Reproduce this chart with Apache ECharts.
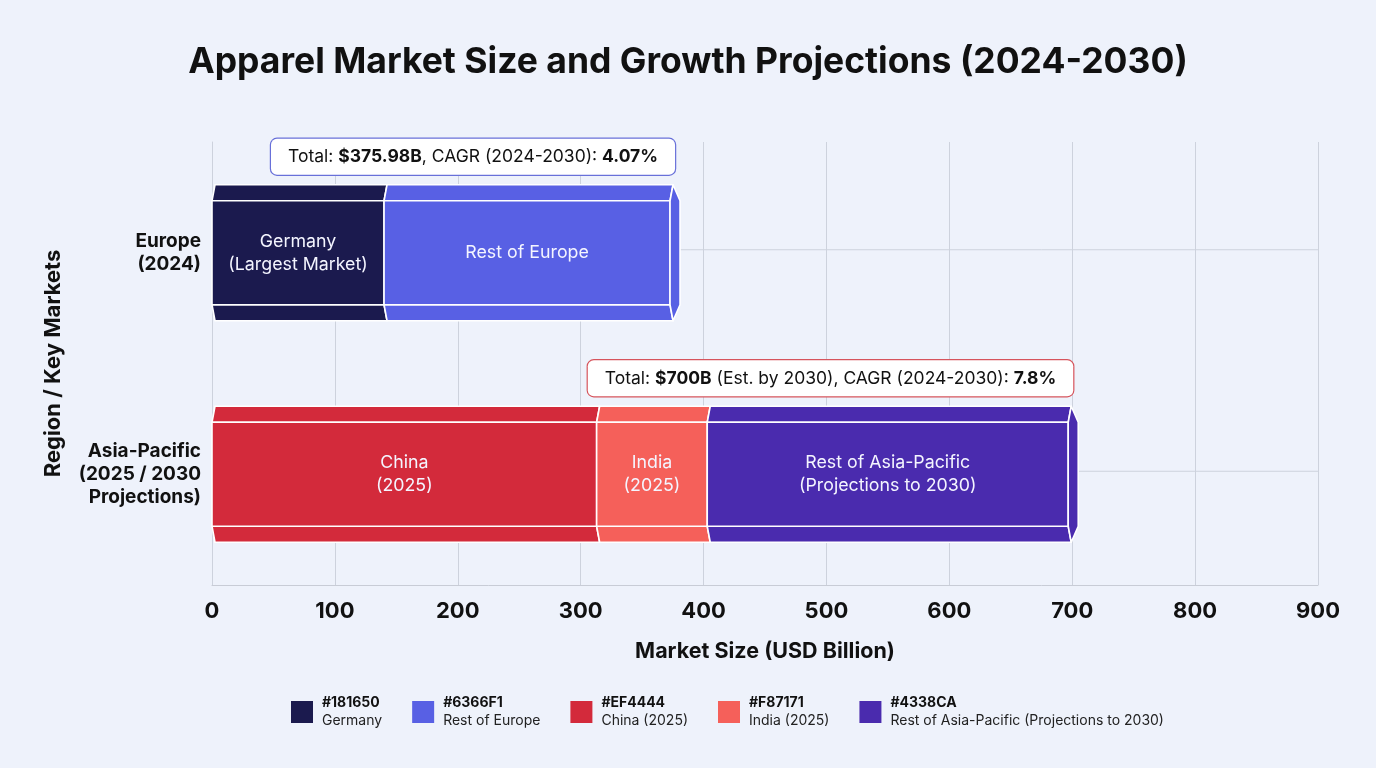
<!DOCTYPE html>
<html>
<head>
<meta charset="utf-8">
<title>Apparel Market Size and Growth Projections</title>
<script src="https://cdn.jsdelivr.net/npm/echarts@6/dist/echarts.min.js"></script>
<style>
  html, body { margin: 0; padding: 0; background: #EEF2FB; }
  #chart { width: 1376px; height: 768px; }
</style>
</head>
<body>
<div id="chart"></div>
<script>
// rows on the y axis
var regions = ['Europe\n(2024)', 'Asia-Pacific\n(2025 / 2030\nProjections)'];

// stacked segments (USD billion)
var segmentNames = ['Germany', 'Rest of Europe', 'China (2025)', 'India (2025)', 'Rest of Asia-Pacific (Projections to 2030)'];
var segmentLabels = ['Germany\n(Largest Market)', 'Rest of Europe', 'China\n(2025)', 'India\n(2025)', 'Rest of Asia-Pacific\n(Projections to 2030)'];
var segmentRegion = [0, 0, 1, 1, 1];
var segmentValues = [140, 235.98, 313, 90, 297];
var segmentHex = ['#181650', '#6366F1', '#EF4444', '#F87171', '#4338CA'];
var segmentFill = ['#1B1A4E', '#5860E4', '#D32A3B', '#F5605A', '#4A2BAE'];

// total boxes above each row
var totalTexts = [
  'Total: {b|$375.98B}, CAGR (2024-2030): {b|4.07%}',
  'Total: {b|$700B} (Est. by 2030), CAGR (2024-2030): {b|7.8%}'
];
var totalBorders = ['#6870D9', '#D6545C'];

var xMin = 0, xMax = 900, xStep = 100;

var FONT = 'Inter, "Noto Sans", sans-serif';

// work out start/end of each segment per row
var offsets = [0, 0];
var rowLast = [];
segmentRegion.forEach(function(r, i) { rowLast[r] = i; });
var segData = segmentValues.map(function(v, i) {
  var r = segmentRegion[i];
  var s = offsets[r];
  offsets[r] += v;
  return [r, s, s + v, s === 0 ? 1 : 0, rowLast[r] === i ? 1 : 0, i];
});

function renderItem(params, api) {
  var row = api.value(0);
  var start = api.value(1);
  var end = api.value(2);
  var isFirst = api.value(3);
  var isLast = api.value(4);
  var idx = api.value(5);
  var p0 = api.coord([start, row]);
  var p1 = api.coord([end, row]);
  var cs = params.coordSys;
  var h = 136, bev = 16, sl = 3;
  var cy = p0[1];
  var top = cy - h / 2, bot = cy + h / 2;
  var a = p0[0], b = p1[0];
  var fe = isLast ? b - 4 : b;
  var tip = b + 6;
  var color = api.visual('color');
  var stroke = { stroke: '#ffffff', lineWidth: 1.6, fill: color, lineJoin: 'round' };
  var kids = [];

  if (isFirst) {
    kids.push({
      type: 'line',
      shape: { x1: cs.x, y1: cy - 3, x2: cs.x + cs.width, y2: cy - 3 },
      style: { stroke: '#CDD2DD', lineWidth: 1 }
    });
  }
  // top bevel
  kids.push({
    type: 'polygon',
    shape: { points: [[a, top + bev], [a + sl, top], [fe + sl, top], [fe, top + bev]] },
    style: stroke
  });
  // bottom bevel
  kids.push({
    type: 'polygon',
    shape: { points: [[a, bot - bev], [fe, bot - bev], [fe + sl, bot], [a + sl, bot]] },
    style: stroke
  });
  // front face
  kids.push({
    type: 'rect',
    shape: { x: a, y: top + bev, width: fe - a, height: h - 2 * bev },
    style: stroke
  });
  if (isLast) {
    kids.push({
      type: 'polygon',
      shape: { points: [[fe + sl, top], [tip, top + bev], [tip, bot - bev], [fe + sl, bot], [fe, bot - bev], [fe, top + bev]] },
      style: stroke
    });
  }
  kids.push({
    type: 'text',
    x: (a + fe) / 2,
    y: cy,
    style: {
      text: segmentLabels[idx],
      fill: '#F4F5FF',
      font: '17.8px ' + FONT,
      lineHeight: 23,
      align: 'center',
      verticalAlign: 'middle'
    }
  });
  if (isLast) {
    kids.push({
      type: 'text',
      x: tip - 5,
      y: top - 10,
      style: {
        text: totalTexts[row],
        fill: '#111111',
        font: '17.5px ' + FONT,
        align: 'right',
        verticalAlign: 'bottom',
        backgroundColor: '#ffffff',
        borderColor: totalBorders[row],
        borderWidth: 1.2,
        borderRadius: 6,
        padding: [9, 17, 9, 17],
        rich: {
          b: { font: 'bold 17.5px ' + FONT, fill: '#111111' }
        }
      }
    });
  }
  return { type: 'group', children: kids };
}

var series = segmentNames.map(function(name, i) {
  return {
    name: name,
    type: 'custom',
    renderItem: renderItem,
    clip: false,
    itemStyle: { color: segmentFill[i] },
    encode: { x: [1, 2], y: 0 },
    data: [segData[i]]
  };
});

var chart = echarts.init(document.getElementById('chart'));
chart.setOption({
  backgroundColor: '#EEF2FB',
  animation: false,
  title: {
    text: 'Apparel Market Size and Growth Projections (2024-2030)',
    left: 'center',
    top: 39,
    textStyle: { fontFamily: FONT, fontSize: 35.5, fontWeight: 'bold', color: '#111111' }
  },
  grid: { left: 212, right: 58, top: 142, bottom: 183 },
  legend: {
    data: segmentNames,
    left: 286,
    top: 691,
    icon: 'rect',
    itemWidth: 22,
    itemHeight: 22,
    itemGap: 30,
    formatter: function(name) {
      var i = segmentNames.indexOf(name);
      return '{h|' + segmentHex[i] + '}\n{n|' + name + '}';
    },
    textStyle: {
      fontFamily: FONT,
      padding: [0, 0, 0, 4],
      rich: {
        h: { fontFamily: FONT, fontSize: 14, fontWeight: 'bold', color: '#111111', lineHeight: 18 },
        n: { fontFamily: FONT, fontSize: 14, color: '#222222', lineHeight: 18 }
      }
    }
  },
  xAxis: {
    type: 'value',
    min: xMin,
    max: xMax,
    interval: xStep,
    name: 'Market Size (USD Billion)',
    nameLocation: 'middle',
    nameGap: 56,
    nameTextStyle: { fontFamily: FONT, fontSize: 21.5, fontWeight: 'bold', color: '#111111' },
    axisLine: { show: true, lineStyle: { color: '#C8CCD6' } },
    axisTick: { show: false },
    axisLabel: { fontFamily: FONT, fontSize: 22, fontWeight: 'bold', color: '#111111', margin: 15 },
    splitLine: { show: true, lineStyle: { color: '#CDD2DD' } }
  },
  yAxis: {
    type: 'category',
    data: regions,
    inverse: true,
    name: 'Region / Key Markets',
    nameLocation: 'middle',
    nameGap: 148,
    nameRotate: 90,
    nameTextStyle: { fontFamily: FONT, fontSize: 22, fontWeight: 'bold', color: '#111111' },
    axisLine: { show: true, lineStyle: { color: '#CDD2DD' } },
    axisTick: { show: false },
    axisLabel: { fontFamily: FONT, fontSize: 19, fontWeight: 'bold', color: '#111111', lineHeight: 23, margin: 11, align: 'right' },
    splitLine: { show: false }
  },
  series: series
});
</script>
</body>
</html>
